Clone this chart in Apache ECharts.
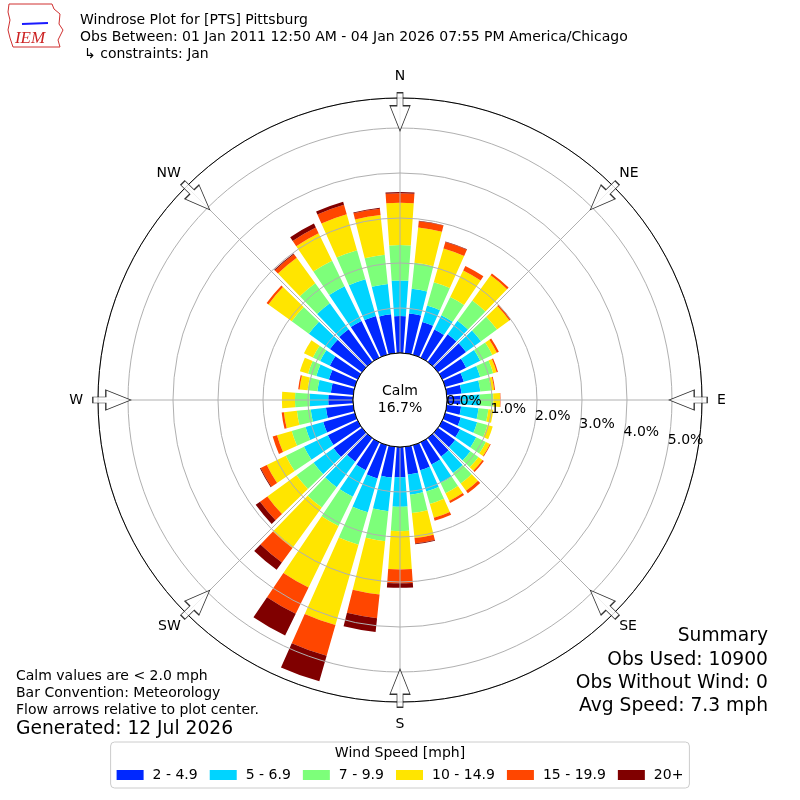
<!DOCTYPE html>
<html>
<head>
<meta charset="utf-8">
<title>Windrose Plot for [PTS] Pittsburg</title>
<script src="https://cdn.jsdelivr.net/npm/echarts@6/dist/echarts.min.js"></script>
<style>
  html, body { margin: 0; padding: 0; background: #fff; }
  #chart { width: 800px; height: 800px; }
</style>
</head>
<body>
<div id="chart"></div>
<script>
// direction bins (degrees, meteorological, centre of 10 deg bins)
var directions = [0, 10, 20, 30, 40, 50, 60, 70, 80, 90, 100, 110, 120, 130, 140, 150, 160, 170,
                  180, 190, 200, 210, 220, 230, 240, 250, 260, 270, 280, 290, 300, 310, 320, 330, 340, 350];
var speedBins = ['2 - 4.9', '5 - 6.9', '7 - 9.9', '10 - 14.9', '15 - 19.9', '20+'];
var binColors = ['#0028ff', '#00d4ff', '#7dff7a', '#ffe500', '#ff4600', '#800000'];

// frequency [%] per direction for each speed bin
var speed2to5   = [0.82, 0.89, 0.76, 0.70, 0.76, 0.77, 0.59, 0.43, 0.33, 0.30, 0.32, 0.36, 0.44, 0.47, 0.51, 0.55, 0.58, 0.62,
                   0.67, 0.69, 0.77, 0.69, 0.65, 0.78, 0.74, 0.73, 0.61, 0.55, 0.50, 0.60, 0.69, 0.88, 0.90, 0.91, 0.90, 0.87];
var speed5to7   = [0.79, 0.55, 0.38, 0.35, 0.37, 0.41, 0.35, 0.38, 0.42, 0.43, 0.39, 0.38, 0.40, 0.42, 0.45, 0.46, 0.49, 0.45,
                   0.66, 0.75, 0.78, 0.66, 0.70, 0.55, 0.59, 0.41, 0.34, 0.41, 0.30, 0.29, 0.24, 0.58, 0.71, 0.86, 0.85, 0.68];
var speed7to10  = [0.79, 0.58, 0.54, 0.45, 0.56, 0.44, 0.30, 0.30, 0.24, 0.30, 0.22, 0.24, 0.24, 0.22, 0.29, 0.25, 0.29, 0.41,
                   0.54, 0.67, 0.75, 0.72, 0.56, 0.47, 0.45, 0.32, 0.31, 0.33, 0.22, 0.19, 0.18, 0.47, 0.55, 0.63, 0.67, 0.65];
var speed10to15 = [0.94, 0.79, 0.78, 0.66, 0.69, 0.34, 0.11, 0.08, 0.07, 0.15, 0.11, 0.12, 0.10, 0.11, 0.20, 0.19, 0.32, 0.56,
                   0.85, 1.19, 1.86, 1.52, 1.11, 0.80, 0.47, 0.34, 0.29, 0.29, 0.18, 0.19, 0.22, 0.64, 0.70, 0.68, 0.83, 0.89];
var speed15to20 = [0.21, 0.14, 0.15, 0.11, 0.05, 0.04, 0.05, 0.03, 0.02, 0.01, 0.00, 0.00, 0.02, 0.04, 0.07, 0.05, 0.07, 0.12,
                   0.31, 0.53, 0.71, 0.65, 0.40, 0.20, 0.15, 0.10, 0.05, 0.00, 0.03, 0.00, 0.00, 0.05, 0.10, 0.14, 0.22, 0.14];
var speed20up   = [0.03, 0.01, 0.01, 0.00, 0.00, 0.00, 0.00, 0.00, 0.00, 0.00, 0.00, 0.00, 0.00, 0.00, 0.00, 0.00, 0.00, 0.02,
                   0.10, 0.31, 0.59, 0.54, 0.20, 0.12, 0.02, 0.00, 0.00, 0.00, 0.00, 0.00, 0.00, 0.00, 0.02, 0.10, 0.07, 0.02];
var binValues = [speed2to5, speed5to7, speed7to10, speed10to15, speed15to20, speed20up];

var compassAngles = [0, 45, 90, 135, 180, 225, 270, 315];
var compassNames  = ['N', 'NE', 'E', 'SE', 'S', 'SW', 'W', 'NW'];
var radialTicks   = [0, 1, 2, 3, 4, 5];

var calmPercent = '16.7%';
var summaryLines = ['Summary', 'Obs Used: 10900', 'Obs Without Wind: 0', 'Avg Speed: 7.3 mph'];
var noteLines = ['Calm values are < 2.0 mph', 'Bar Convention: Meteorology', 'Flow arrows relative to plot center.'];

var FONT = 'DejaVu Sans';
var RMAX = 5.667;         // outer ring of the plot, in %
var ARROW_R = 5.36;       // where the compass arrows sit, in %
var arrowPath = 'path://M-3,0 L3,0 L3,13 L10,13 L0,38 L-10,13 L-3,13 Z';

var myChart = echarts.init(document.getElementById('chart'), null, { renderer: 'canvas' });

function txt(text, x, y, size, align, extra) {
    var s = {
        text: text, x: x, y: y,
        font: size + 'px "' + FONT + '"',
        fill: '#000',
        align: align, textAlign: align,
        verticalAlign: 'middle', textVerticalAlign: 'middle'
    };
    if (extra) { for (var k in extra) s[k] = extra[k]; }
    return { type: 'text', z: 20, silent: true, style: s };
}

function compassName(deg) {
    var i = compassAngles.indexOf(((deg % 360) + 360) % 360);
    return i >= 0 ? compassNames[i] : '';
}

var series = binValues.map(function (vals, i) {
    return {
        name: speedBins[i],
        type: 'bar',
        coordinateSystem: 'polar',
        polarIndex: 0,
        stack: 'wind',
        data: vals,
        barCategoryGap: '20%',
        itemStyle: { color: binColors[i] },
        silent: true,
        z: 2
    };
});

series.push({
    type: 'scatter',
    coordinateSystem: 'polar',
    polarIndex: 1,
    silent: true,
    z: 10,
    symbol: arrowPath,
    symbolSize: [20, 38],
    itemStyle: { color: '#fff', borderColor: '#000', borderWidth: 1 },
    data: compassAngles.map(function (a) {
        return { value: [ARROW_R, a], symbolRotate: -a };
    })
});

var graphics = [
    // calm circle
    { type: 'circle', z: 8, silent: true, shape: { cx: 400, cy: 400, r: 47 },
      style: { fill: '#fff', stroke: '#000', lineWidth: 1 } },
    txt('Calm', 400, 391, 14, 'center'),
    txt(calmPercent, 400, 408, 14, 'center'),
    // header
    txt('Windrose Plot for [PTS] Pittsburg', 80, 20, 14, 'left'),
    txt('Obs Between: 01 Jan 2011 12:50 AM - 04 Jan 2026 07:55 PM America/Chicago', 80, 37, 14, 'left'),
    txt('\u21b3 constraints: Jan', 84, 54, 14, 'left'),
    // logo
    { type: 'polyline', silent: true, z: 19,
      shape: { points: [[9, 4], [52, 4], [54, 9], [60, 14], [59, 24], [63, 30], [58, 40], [60, 47], [13, 47], [10, 38], [8, 30], [10, 20], [8, 12], [9, 4]] },
      style: { stroke: '#d03030', lineWidth: 1, fill: null } },
    { type: 'polyline', silent: true, z: 19,
      shape: { points: [[22, 24], [48, 23]] }, style: { stroke: '#1a1aff', lineWidth: 2 } },
    txt('IEM', 30, 39, 17, 'center', { font: 'italic 17px "Liberation Serif"', fill: '#cc2222' }),
    // notes
    txt(noteLines[0], 16, 676, 14, 'left'),
    txt(noteLines[1], 16, 693, 14, 'left'),
    txt(noteLines[2], 16, 710, 14, 'left'),
    txt('Generated: 12 Jul 2026', 16, 729, 18.7, 'left'),
    // summary
    txt(summaryLines[0], 768, 636, 18.7, 'right'),
    txt(summaryLines[1], 768, 660, 18.7, 'right'),
    txt(summaryLines[2], 768, 683, 18.7, 'right'),
    txt(summaryLines[3], 768, 706, 18.7, 'right'),
    // legend title
    txt('Wind Speed [mph]', 400, 753, 14, 'center')
];

var option = {
    animation: false,
    backgroundColor: '#fff',
    textStyle: { fontFamily: FONT },
    polar: [
        { center: [400, 400], radius: [47, 302] },
        { center: [400, 400], radius: [47, 302] },
        { center: [400, 400], radius: [47, 302] },
        { center: [400, 400], radius: [47, 302] }
    ],
    angleAxis: [
        {
            polarIndex: 0, type: 'category', data: directions,
            startAngle: 95, clockwise: true, boundaryGap: true,
            axisLine: { show: false }, axisTick: { show: false },
            axisLabel: { show: false }, splitLine: { show: false }
        },
        {
            // grid spokes, outer circle and N/E/S/W labels
            polarIndex: 1, type: 'value', min: 0, max: 360, interval: 45,
            startAngle: 90, clockwise: true, z: 5,
            axisLine: { show: true, lineStyle: { color: '#000', width: 1 } },
            axisTick: { show: false },
            axisLabel: {
                show: true, margin: 15, fontSize: 14, color: '#000', fontFamily: FONT,
                formatter: function (v) { return v % 90 === 0 && v < 360 ? compassName(v) : ''; }
            },
            splitLine: { show: true, lineStyle: { color: '#b0b0b0', width: 1 } }
        },
        {
            polarIndex: 2, type: 'value', min: 0, max: 360,
            startAngle: -10, clockwise: true,
            axisLine: { show: false }, axisTick: { show: false },
            axisLabel: { show: false }, splitLine: { show: false }
        },
        {
            // NE/SE/SW/NW labels (value 0 sits at NW)
            polarIndex: 3, type: 'value', min: 0, max: 360, interval: 90,
            startAngle: 135, clockwise: true, z: 5,
            axisLine: { show: false }, axisTick: { show: false }, splitLine: { show: false },
            axisLabel: {
                show: true, margin: 8, fontSize: 14, color: '#000', fontFamily: FONT,
                formatter: function (v) { return v < 360 ? compassName(v + 315) : ''; }
            }
        }
    ],
    radiusAxis: [
        { polarIndex: 0, type: 'value', min: 0, max: RMAX, show: false },
        {
            polarIndex: 1, type: 'value', min: 0, max: RMAX, interval: 1, z: 5,
            axisLine: { show: false }, axisTick: { show: false }, axisLabel: { show: false },
            splitLine: { show: true, lineStyle: { color: '#b0b0b0', width: 1 } }
        },
        {
            polarIndex: 2, type: 'value', min: 0, max: RMAX, interval: 1, z: 12,
            axisLine: { show: false }, axisTick: { show: false }, splitLine: { show: false },
            axisLabel: {
                show: true, margin: 0, fontSize: 14, color: '#000', fontFamily: FONT,
                align: 'left', verticalAlign: 'bottom',
                formatter: function (v) {
                    return radialTicks.indexOf(v) >= 0 ? v.toFixed(1) + '%' : '';
                }
            }
        },
        { polarIndex: 3, type: 'value', min: 0, max: RMAX, show: false }
    ],
    legend: {
        data: speedBins,
        left: 'center', top: 742,
        icon: 'rect', itemWidth: 27, itemHeight: 10, itemGap: 12,
        padding: [26, 6, 6, 6],
        borderColor: '#cccccc', borderWidth: 1, borderRadius: 4,
        selectedMode: false,
        textStyle: { fontSize: 14, color: '#000', fontFamily: FONT, padding: [0, 0, 0, 4] }
    },
    series: series,
    graphic: graphics
};

myChart.setOption(option);
</script>
</body>
</html>
